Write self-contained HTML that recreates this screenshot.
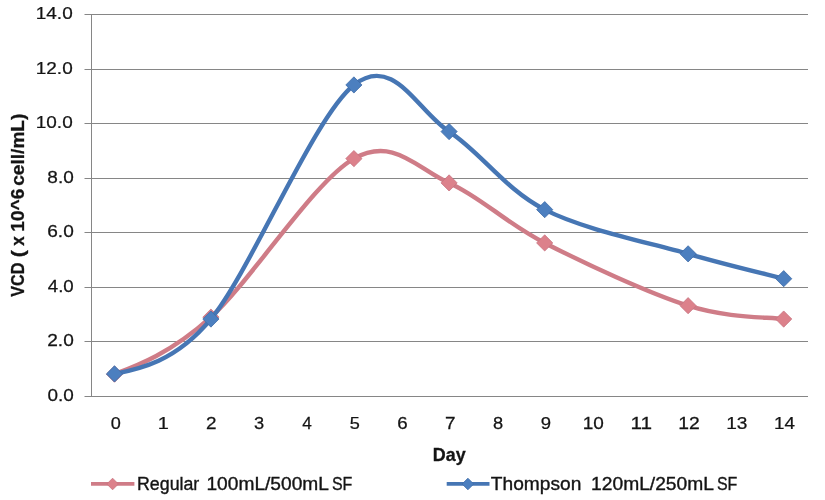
<!DOCTYPE html>
<html><head><meta charset="utf-8"><style>
html,body{margin:0;padding:0;background:#fff;}
body{width:825px;height:500px;overflow:hidden;}
svg{display:block;}
.t{font-family:"Liberation Sans",Arial,sans-serif;fill:#141414;stroke:#141414;stroke-width:0.35px;}
.ta{font-family:"Liberation Sans",Arial,sans-serif;fill:#141414;stroke:#141414;stroke-width:0.25px;}
.tb{font-family:"Liberation Sans",Arial,sans-serif;font-weight:bold;fill:#141414;stroke:#141414;stroke-width:0.3px;}
</style></head><body>
<svg width="825" height="500" viewBox="0 0 825 500">
<rect width="825" height="500" fill="#fff"/>
<line x1="84.5" y1="341.5" x2="808.0" y2="341.5" stroke="#868686" stroke-width="1"/>
<line x1="84.5" y1="287.5" x2="808.0" y2="287.5" stroke="#868686" stroke-width="1"/>
<line x1="84.5" y1="232.5" x2="808.0" y2="232.5" stroke="#868686" stroke-width="1"/>
<line x1="84.5" y1="178.5" x2="808.0" y2="178.5" stroke="#868686" stroke-width="1"/>
<line x1="84.5" y1="123.5" x2="808.0" y2="123.5" stroke="#868686" stroke-width="1"/>
<line x1="84.5" y1="69.5" x2="808.0" y2="69.5" stroke="#868686" stroke-width="1"/>
<line x1="84.5" y1="14.5" x2="808.0" y2="14.5" stroke="#868686" stroke-width="1"/>
<line x1="91.5" y1="14" x2="91.5" y2="397" stroke="#868686" stroke-width="1"/>
<line x1="84.5" y1="396.5" x2="808" y2="396.5" stroke="#868686" stroke-width="1"/>
<path d="M114.50,374.17 C137.10,365.73 171.00,353.07 210.90,317.14 C250.80,281.22 314.20,180.99 353.90,158.61 C393.60,136.24 417.30,168.85 449.10,182.90 C480.90,196.95 504.87,222.46 544.70,242.93 C584.53,263.39 648.27,293.00 688.10,305.68 C727.93,318.37 767.77,316.83 783.70,319.05" fill="none" stroke="#CF7C87" stroke-width="4.40" stroke-linejoin="round" stroke-linecap="round"/>
<path d="M114.50,366.07 L122.60,374.17 L114.50,382.27 L106.40,374.17 Z" fill="#DC818B" stroke="#C87480" stroke-width="0.8" stroke-linejoin="miter"/>
<path d="M210.90,309.04 L219.00,317.14 L210.90,325.24 L202.80,317.14 Z" fill="#DC818B" stroke="#C87480" stroke-width="0.8" stroke-linejoin="miter"/>
<path d="M353.90,150.51 L362.00,158.61 L353.90,166.71 L345.80,158.61 Z" fill="#DC818B" stroke="#C87480" stroke-width="0.8" stroke-linejoin="miter"/>
<path d="M449.10,174.80 L457.20,182.90 L449.10,191.00 L441.00,182.90 Z" fill="#DC818B" stroke="#C87480" stroke-width="0.8" stroke-linejoin="miter"/>
<path d="M544.70,234.83 L552.80,242.93 L544.70,251.03 L536.60,242.93 Z" fill="#DC818B" stroke="#C87480" stroke-width="0.8" stroke-linejoin="miter"/>
<path d="M688.10,297.58 L696.20,305.68 L688.10,313.78 L680.00,305.68 Z" fill="#DC818B" stroke="#C87480" stroke-width="0.8" stroke-linejoin="miter"/>
<path d="M783.70,310.95 L791.80,319.05 L783.70,327.15 L775.60,319.05 Z" fill="#DC818B" stroke="#C87480" stroke-width="0.8" stroke-linejoin="miter"/>
<path d="M114.50,373.90 C138.91,369.04 175.52,361.76 210.90,319.05 C250.80,270.89 314.20,116.18 353.90,84.94 C393.60,53.70 417.30,110.82 449.10,131.60 C480.90,152.38 504.87,189.27 544.70,209.64 C584.53,230.01 648.27,242.34 688.10,253.84 C727.93,265.35 767.77,274.53 783.70,278.67" fill="none" stroke="#4676B4" stroke-width="4.40" stroke-linejoin="round" stroke-linecap="round"/>
<path d="M114.50,365.80 L122.60,373.90 L114.50,382.00 L106.40,373.90 Z" fill="#4C7FBF" stroke="#3F6CA8" stroke-width="0.8" stroke-linejoin="miter"/>
<path d="M210.90,310.95 L219.00,319.05 L210.90,327.15 L202.80,319.05 Z" fill="#4C7FBF" stroke="#3F6CA8" stroke-width="0.8" stroke-linejoin="miter"/>
<path d="M353.90,76.84 L362.00,84.94 L353.90,93.04 L345.80,84.94 Z" fill="#4C7FBF" stroke="#3F6CA8" stroke-width="0.8" stroke-linejoin="miter"/>
<path d="M449.10,123.50 L457.20,131.60 L449.10,139.70 L441.00,131.60 Z" fill="#4C7FBF" stroke="#3F6CA8" stroke-width="0.8" stroke-linejoin="miter"/>
<path d="M544.70,201.54 L552.80,209.64 L544.70,217.74 L536.60,209.64 Z" fill="#4C7FBF" stroke="#3F6CA8" stroke-width="0.8" stroke-linejoin="miter"/>
<path d="M688.10,245.74 L696.20,253.84 L688.10,261.94 L680.00,253.84 Z" fill="#4C7FBF" stroke="#3F6CA8" stroke-width="0.8" stroke-linejoin="miter"/>
<path d="M783.70,270.57 L791.80,278.67 L783.70,286.77 L775.60,278.67 Z" fill="#4C7FBF" stroke="#3F6CA8" stroke-width="0.8" stroke-linejoin="miter"/>
<line x1="91" y1="483.9" x2="134.4" y2="483.9" stroke="#CF7C87" stroke-width="3.6"/>
<path d="M112.60,478.20 L118.40,484.00 L112.60,489.80 L106.80,484.00 Z" fill="#DC818B" stroke="#C87480" stroke-width="0.8" stroke-linejoin="miter"/>
<line x1="446.7" y1="483.9" x2="489.5" y2="483.9" stroke="#4676B4" stroke-width="3.6"/>
<path d="M467.90,478.20 L473.70,484.00 L467.90,489.80 L462.10,484.00 Z" fill="#4C7FBF" stroke="#3F6CA8" stroke-width="0.8" stroke-linejoin="miter"/>
<text class="ta" font-size="17.30" transform="matrix(1.0943 0 0 1 47.44 401.10)">0.0</text>
<text class="ta" font-size="17.30" transform="matrix(1.1027 0 0 1 47.25 346.10)">2.0</text>
<text class="ta" font-size="17.30" transform="matrix(1.0819 0 0 1 47.73 292.10)">4.0</text>
<text class="ta" font-size="17.30" transform="matrix(1.1027 0 0 1 47.25 237.10)">6.0</text>
<text class="ta" font-size="17.30" transform="matrix(1.0985 0 0 1 47.34 183.10)">8.0</text>
<text class="ta" font-size="17.30" transform="matrix(1.0961 0 0 1 35.78 128.10)">10.0</text>
<text class="ta" font-size="17.30" transform="matrix(1.0961 0 0 1 35.78 74.10)">12.0</text>
<text class="ta" font-size="17.30" transform="matrix(1.0961 0 0 1 35.78 19.10)">14.0</text>
<text class="ta" font-size="17.30" transform="matrix(1.0465 0 0 1 110.68 428.90)">0</text>
<text class="ta" font-size="17.30" transform="matrix(1.1561 0 0 1 157.70 428.90)">1</text>
<text class="ta" font-size="17.30" transform="matrix(1.0925 0 0 1 206.05 428.90)">2</text>
<text class="ta" font-size="17.30" transform="matrix(1.0577 0 0 1 254.07 428.90)">3</text>
<text class="ta" font-size="17.30" transform="matrix(0.9942 0 0 1 302.17 428.90)">4</text>
<text class="ta" font-size="17.30" transform="matrix(1.0465 0 0 1 349.68 428.90)">5</text>
<text class="ta" font-size="17.30" transform="matrix(1.0807 0 0 1 397.27 428.90)">6</text>
<text class="ta" font-size="17.30" transform="matrix(1.0925 0 0 1 445.05 428.90)">7</text>
<text class="ta" font-size="17.30" transform="matrix(1.0577 0 0 1 492.98 428.90)">8</text>
<text class="ta" font-size="17.30" transform="matrix(1.0691 0 0 1 540.77 428.90)">9</text>
<text class="ta" font-size="17.30" transform="matrix(1.0983 0 0 1 582.78 428.90)">10</text>
<text class="ta" font-size="17.30" transform="matrix(1.2003 0 0 1 630.44 428.90)">11</text>
<text class="ta" font-size="17.30" transform="matrix(1.1150 0 0 1 678.35 428.90)">12</text>
<text class="ta" font-size="17.30" transform="matrix(1.1038 0 0 1 726.17 428.90)">13</text>
<text class="ta" font-size="17.30" transform="matrix(1.0874 0 0 1 773.99 428.90)">14</text>
<text class="tb" font-size="18.10" transform="matrix(0.9892 0 0 1 432.84 460.50)">Day</text>
<text class="tb" font-size="17.80" transform="matrix(0 -0.9081 1 0 23.80 296.66)">VCD</text>
<text class="tb" font-size="17.80" transform="matrix(0 -1.1838 1 0 23.80 257.35)">(</text>
<text class="tb" font-size="17.80" transform="matrix(0 -0.9556 1 0 23.80 245.67)">x</text>
<text class="tb" font-size="17.80" transform="matrix(0 -1.0713 1 0 23.80 231.64)">10^6</text>
<text class="tb" font-size="17.80" transform="matrix(0 -1.0734 1 0 23.80 185.76)">cell/mL)</text>
<text class="t" font-size="17.80" transform="matrix(0.9999 0 0 1 136.98 489.60)">Regular</text>
<text class="t" font-size="17.80" transform="matrix(1.0771 0 0 1 206.46 489.60)">100mL/500mL</text>
<text class="t" font-size="17.80" transform="matrix(0.8979 0 0 1 331.88 489.60)">SF</text>
<text class="t" font-size="17.80" transform="matrix(1.0775 0 0 1 490.82 489.60)">Thompson</text>
<text class="t" font-size="17.80" transform="matrix(1.0807 0 0 1 591.06 489.60)">120mL/250mL</text>
<text class="t" font-size="17.80" transform="matrix(0.8979 0 0 1 716.88 489.60)">SF</text>
</svg>
</body></html>
